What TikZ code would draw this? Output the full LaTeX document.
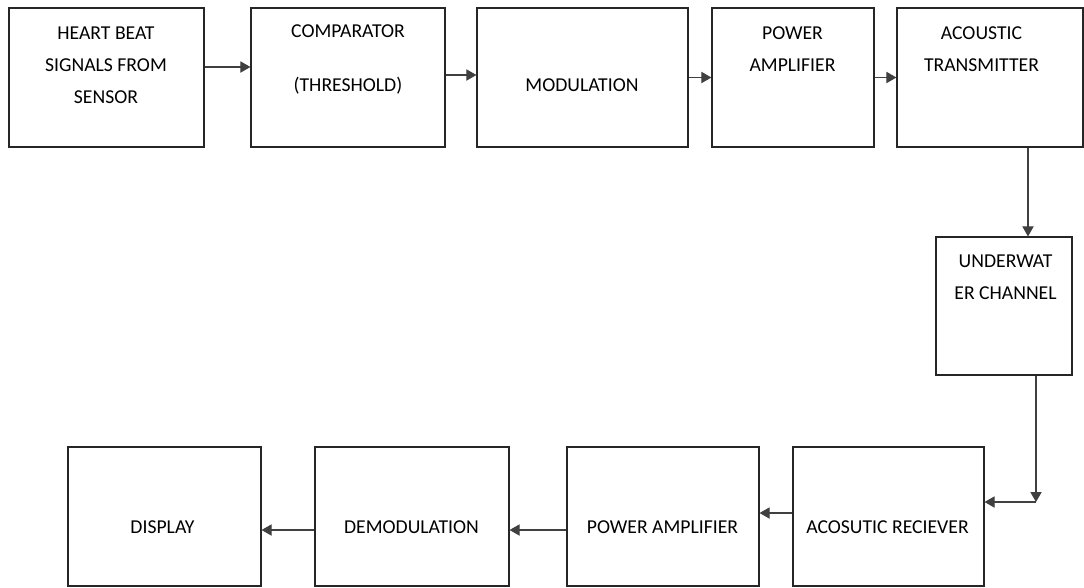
\documentclass[tikz,border=0pt]{standalone}
\usepackage{fontspec}
\setmainfont{Carlito}
\usetikzlibrary{arrows.meta,calc}
\begin{document}
\begin{tikzpicture}[x=0.025cm,y=-0.025cm]
            \tikzstyle{bloc}=[draw=black!85,line width=0.8pt,inner sep=0pt,minimum height=3.475cm]
            \tikzstyle{texte}=[align=center,font=\fontsize{14}{22.7}\selectfont,inner sep=0pt]
            \tikzstyle{fleche}=[draw=black!75,line width=0.8pt,-{Triangle[length=0.25cm,width=0.28cm]}]
            \useasboundingbox (0,0) rectangle (1084,587);
            % chaine d'emission
            \node[bloc,minimum width=4.875cm] (capteur) at (106.5,77.5) {};
            \node[bloc,minimum width=4.85cm] (comp) at (348,77.5) {};
            \node[bloc,minimum width=5.275cm] (modul) at (582.5,77.5) {};
            \node[bloc,minimum width=4.05cm] (ampli) at (793,77.5) {};
            \node[bloc,minimum width=4.65cm] (emet) at (990,77.5) {};
            \node[bloc,minimum width=3.4cm,minimum height=3.45cm] (canal) at (1004,306) {};
            % chaine de reception
            \node[bloc,minimum width=4.775cm] (recep) at (888.5,516.5) {};
            \node[bloc,minimum width=4.8cm] (ampli2) at (663,516.5) {};
            \node[bloc,minimum width=4.85cm] (demod) at (412,516.5) {};
            \node[bloc,minimum width=4.825cm] (ecran) at (164.5,516.5) {};
            \coordinate (coude) at (1036,502);
            % textes
            \node[texte] (t1) at (106,65) {HEART BEAT\\SIGNALS FROM\\SENSOR};
            \node[texte] (t2) at (348,59.5) {COMPARATOR\\[0.575cm](THRESHOLD)};
            \node[texte] (t3) at (582,85) {MODULATION};
            \node[texte] (t4) at (792.5,49) {POWER\\AMPLIFIER};
            \node[texte] (t5) at (981.5,49) {ACOUSTIC\\TRANSMITTER};
            \node[texte] (t6) at (1005.5,277.5) {UNDERWAT\\ER CHANNEL};
            \node[texte] (t7) at (887.5,527) {ACOSUTIC RECIEVER};
            \node[texte] (t8) at (662.5,527) {POWER AMPLIFIER};
            \node[texte] (t9) at (411.5,527) {DEMODULATION};
            \node[texte] (t10) at (162.5,527) {DISPLAY};
            % fleches
            \draw[fleche] ($(capteur.east)+(0,-10.5)$) -- ($(comp.west)+(0,-10.5)$);
            \draw[fleche] ($(comp.east)+(0,-2.5)$) -- ($(modul.west)+(0,-2.5)$);
            \draw[fleche] (modul) -- (ampli);
            \draw[fleche] (ampli) -- (emet);
            \draw[fleche] ($(emet.south)+(38,0)$) -- ($(canal.north)+(24,0)$);
            \draw[fleche] ($(canal.south)+(32,0)$) -- (coude);
            \draw[fleche] (coude) -- (recep.east |- coude);
            \draw[fleche] ($(recep.west)+(0,-3.5)$) -- ($(ampli2.east)+(0,-3.5)$);
            \draw[fleche] ($(ampli2.west)+(0,13.5)$) -- ($(demod.east)+(0,13.5)$);
            \draw[fleche] ($(demod.west)+(0,13.5)$) -- ($(ecran.east)+(0,13.5)$);
\end{tikzpicture}
\end{document}
